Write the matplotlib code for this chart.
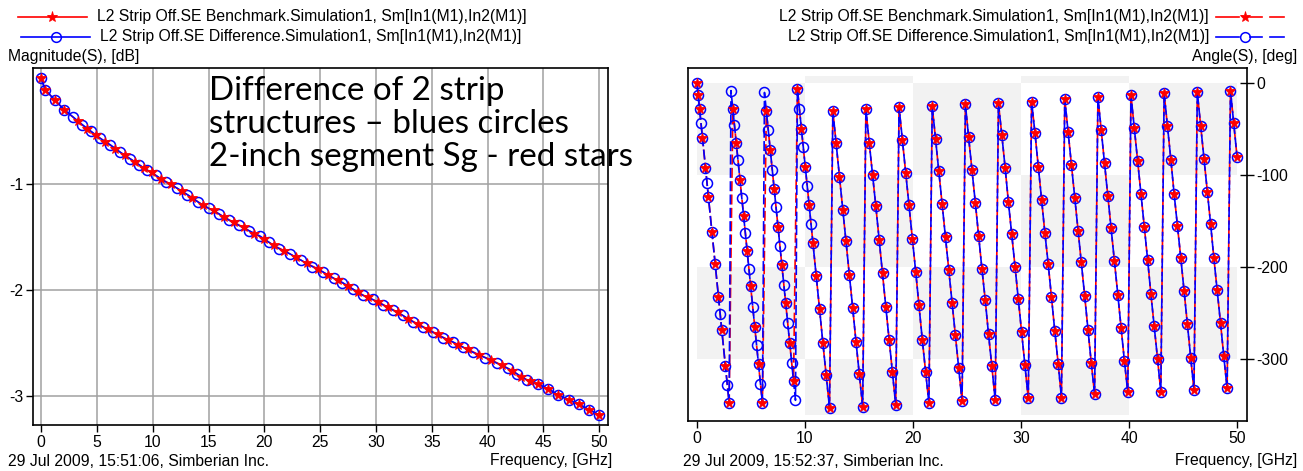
import numpy as np
import matplotlib
matplotlib.use("Agg")
import matplotlib.pyplot as plt
from matplotlib.lines import Line2D
from matplotlib.colors import ListedColormap

plt.rcParams['font.family'] = ['Liberation Sans', 'DejaVu Sans']
plt.rcParams['axes.unicode_minus'] = False

# ---------------- data ----------------
series_names = ["L2 Strip Off.SE Benchmark.Simulation1, Sm[In1(M1),In2(M1)]",
                "L2 Strip Off.SE Difference.Simulation1, Sm[In1(M1),In2(M1)]"]

# Magnitude (left chart), dB
mag_freq_bench = [0, 0.36, 1.25, 2.08, 3.3, 4.1, 4.9, 5.75, 6.65, 7.5, 8.4, 9.2, 9.9, 10.7, 11.6,
                  12.6, 13.55, 14.5, 15.45, 16.35, 17.25, 18.15, 19.1, 20.0, 20.85, 21.8, 22.8,
                  23.8, 24.8, 25.7, 26.6, 27.45, 28.35, 29.25, 30.15, 31.05, 31.95, 32.85, 33.75,
                  34.65, 35.55, 36.45, 37.35, 38.25, 39.2, 40.3, 41.3, 42.2, 43.0, 43.8, 44.5,
                  45.4, 46.3, 47.3, 48.2, 49.1, 50.0]
mag_bench = [0.0, -0.11, -0.21, -0.30, -0.41, -0.48, -0.54, -0.60, -0.67, -0.73, -0.79, -0.85,
             -0.89, -0.95, -1.00, -1.07, -1.13, -1.20, -1.25, -1.31, -1.36, -1.41, -1.47, -1.52,
             -1.58, -1.63, -1.69, -1.75, -1.80, -1.86, -1.91, -1.96, -2.02, -2.07, -2.11, -2.16,
             -2.21, -2.27, -2.32, -2.37, -2.42, -2.47, -2.52, -2.56, -2.61, -2.66, -2.71, -2.76,
             -2.82, -2.86, -2.89, -2.93, -2.99, -3.04, -3.08, -3.13, -3.18]

mag_freq_diff = [0, 0.36, 1.25, 2.08, 2.9, 3.7, 4.45, 5.3, 6.2, 7.1, 7.95, 8.8, 9.5, 10.3, 11.15,
                 12.2, 13.1, 14.05, 15.0, 15.9, 16.8, 17.7, 18.6, 19.6, 20.4, 21.3, 22.3, 23.3,
                 24.3, 25.25, 26.2, 27.0, 27.9, 28.8, 29.7, 30.6, 31.5, 32.4, 33.3, 34.2, 35.1,
                 36.0, 36.9, 37.8, 38.7, 39.8, 40.8, 41.8, 42.6, 43.5, 44.5, 45.4, 46.3, 47.3,
                 48.2, 49.1, 50.0]
mag_diff = [0.0, -0.11, -0.21, -0.30, -0.37, -0.44, -0.50, -0.57, -0.63, -0.70, -0.76, -0.82,
            -0.87, -0.92, -0.98, -1.04, -1.10, -1.17, -1.23, -1.28, -1.34, -1.39, -1.44, -1.49,
            -1.55, -1.61, -1.66, -1.72, -1.78, -1.83, -1.89, -1.93, -1.99, -2.05, -2.09, -2.14,
            -2.19, -2.24, -2.30, -2.35, -2.40, -2.45, -2.49, -2.54, -2.59, -2.64, -2.69, -2.74,
            -2.79, -2.85, -2.89, -2.93, -2.99, -3.04, -3.08, -3.13, -3.18]

# Angle (right chart), deg -- low-frequency part differs between the two simulations
ang_freq_bench_low = [0.00, 0.11, 0.24, 0.51, 0.79, 1.06, 1.39, 1.69, 1.99, 2.29, 2.64, 2.98,
                      3.32, 3.64, 3.98, 4.32, 4.64, 4.97, 5.35, 5.70, 6.06,
                      6.42, 6.79, 7.15, 7.50, 7.86, 8.21, 8.59, 8.94,
                      9.30, 9.67, 10.03, 10.39]
ang_bench_low = [0, -12.7, -28, -60, -92, -124, -162, -197, -233, -268, -308, -348,
                 -28, -65, -105, -144, -182, -221, -265, -306, -348,
                 -30, -73, -115, -156, -198, -239, -283, -324,
                 -6.5, -50, -91, -133]

ang_freq_diff_low = [0.00, 0.11, 0.24, 0.37, 0.51, 0.79, 0.92, 1.06, 1.39, 1.69, 1.99, 2.15, 2.29,
                     2.64, 2.81, 2.98,
                     3.15, 3.32, 3.47, 3.64, 3.80, 3.98, 4.15, 4.32, 4.48, 4.64, 4.81, 4.97, 5.16,
                     5.35, 5.52, 5.70, 5.88, 6.06,
                     6.25, 6.42, 6.60, 6.79, 6.97, 7.15, 7.32, 7.50, 7.68, 7.86, 8.04, 8.21, 8.40,
                     8.59, 8.77, 8.94, 9.12,
                     9.30, 9.49, 9.67, 9.84, 10.03, 10.21, 10.39, 10.56]
ang_diff_low = [0, -12.7, -28, -43, -60, -92, -108, -124, -162, -197, -233, -251, -268, -308, -328, -348,
                -8, -28, -45, -65, -84, -105, -125, -144, -163, -182, -202, -221, -243, -265, -285,
                -306, -327, -348,
                -10, -30, -51, -73, -94, -115, -135, -156, -177, -198, -219, -239, -261, -283,
                -304, -324, -345,
                -6.5, -28, -50, -69, -91, -112, -133, -153]

# common part (both simulations coincide above ~10.7 GHz)
ang_freq_high = [10.74, 11.04, 11.35, 11.66, 11.96, 12.27, 12.58, 12.88, 13.19, 13.50, 13.80, 14.11,
                 14.42, 14.72, 15.03, 15.34, 15.64, 15.95, 16.26, 16.56, 16.87, 17.18, 17.48, 17.79,
                 18.10, 18.40, 18.71, 19.02, 19.33, 19.63, 19.94, 20.25, 20.55, 20.86, 21.17, 21.47,
                 21.78, 22.09, 22.39, 22.70, 23.01, 23.31, 23.62, 23.93, 24.23, 24.54, 24.85, 25.15,
                 25.46, 25.77, 26.07, 26.38, 26.69, 26.99, 27.30, 27.61, 27.91, 28.22, 28.53, 28.83,
                 29.14, 29.45, 29.75, 30.06, 30.37, 30.67, 30.98, 31.29, 31.60, 31.90, 32.21, 32.52,
                 32.82, 33.13, 33.44, 33.74, 34.05, 34.36, 34.66, 34.97, 35.28, 35.58, 35.89, 36.20,
                 36.50, 36.81, 37.12, 37.42, 37.73, 38.04, 38.34, 38.65, 38.96, 39.26, 39.57, 39.88,
                 40.18, 40.49, 40.80, 41.10, 41.41, 41.72, 42.02, 42.33, 42.64, 42.94, 43.25, 43.56,
                 43.87, 44.17, 44.48, 44.79, 45.09, 45.40, 45.71, 46.01, 46.32, 46.63, 46.93, 47.24,
                 47.55, 47.85, 48.16, 48.47, 48.77, 49.08, 49.39, 49.69, 50.00]
ang_high = [-174, -210, -246, -283, -317, -353,
            -30, -65, -102, -138, -172, -209, -245, -281, -316, -352,
            -28, -65, -100, -134, -171, -207, -243, -279, -314, -350,
            -26, -62, -98, -133, -169, -205, -241, -279, -314, -348,
            -25, -61, -96, -131, -167, -203, -239, -274, -310, -346,
            -23, -59, -94, -130, -166, -202, -236, -273, -308, -345,
            -22, -56, -92, -129, -164, -200, -235, -271, -307, -343,
            -20, -54, -91, -127, -163, -197, -233, -270, -305, -342,
            -17, -53, -89, -125, -161, -195, -231, -268, -304, -338,
            -15, -51, -87, -123, -158, -193, -230, -266, -302, -336,
            -13, -49, -85, -121, -156, -192, -229, -264, -300, -336,
            -11, -47, -83, -120, -155, -190, -226, -262, -299, -334,
            -10, -46, -82, -118, -153, -190, -225, -261, -297, -332,
            -8, -43.5, -80]

left_xticks = [0, 5, 10, 15, 20, 25, 30, 35, 40, 45, 50]
left_yticks = [-1, -2, -3]
right_xticks = [0, 10, 20, 30, 40, 50]
right_yticks = [0, -100, -200, -300]
bg_x_edges = [0, 10, 20, 30, 40, 50]
bg_y_edges = [-361, -300, -200, -100, 0, 8]

note_text = "Difference of 2 strip\nstructures \u2013 blues circles\n2-inch segment Sg - red stars"
left_stamp = "29 Jul 2009, 15:51:06, Simberian Inc."
right_stamp = "29 Jul 2009, 15:52:37, Simberian Inc."

# ---------------- figure ----------------
W, H = 1303, 471
fig = plt.figure(figsize=(W / 100, H / 100), dpi=100)
fig.patch.set_facecolor('white')


def fx(x):
    return x / W


def fy(y):
    return 1 - y / H


RED = '#ff0000'
BLUE = '#0000ff'
FS = 10.3
TXT = '#000000'

renderer = fig.canvas.get_renderer()


def fit(t, width_px):
    bb = t.get_window_extent(renderer)
    t.set_fontsize(t.get_fontsize() * width_px / bb.width)


# --- left chart ---
axL = fig.add_axes([fx(33), fy(425), (608 - 33) / W, (425 - 68) / H])
axL.set_xlim(-0.72, 50.78)
axL.set_ylim(-3.274, 0.094)
axL.set_xticks(left_xticks)
axL.set_xticklabels([str(v) for v in left_xticks])
axL.set_yticks(left_yticks)
axL.set_yticklabels([str(v) for v in left_yticks])
axL.grid(True, color='#a0a0a0', lw=1.1, zorder=0)
axL.set_axisbelow(True)
axL.tick_params(direction='out', length=5, width=1, labelsize=FS, pad=2, colors='black')
for s in axL.spines.values():
    s.set_linewidth(1.2)

axL.plot(mag_freq_bench, mag_bench, color=RED, lw=1.1, zorder=3)
axL.plot(mag_freq_diff, mag_diff, color=BLUE, lw=1.1, zorder=4)
axL.plot(mag_freq_diff, mag_diff, ls='none', marker='o', ms=7.2, mfc='none', mec=BLUE, mew=1.1, zorder=5)
axL.plot(mag_freq_bench, mag_bench, ls='none', marker='*', ms=7.5, mfc=RED, mec=RED, mew=0.6, zorder=6)

note = axL.text(fx(209), fy(76), note_text, transform=fig.transFigure, ha='left', va='top',
                fontsize=20, family=['Lato', 'DejaVu Sans'], linespacing=1.12, zorder=2, color='black')

# --- right chart ---
axR = fig.add_axes([fx(688), fy(421), (1247 - 688) / W, (421 - 68) / H])
axR.set_xlim(-0.83, 50.92)
axR.set_ylim(-367.5, 16.6)
nrow, ncol = len(bg_y_edges) - 1, len(bg_x_edges) - 1
rr, cc = np.indices((nrow, ncol))
checker = (rr + cc) % 2
axR.pcolormesh(bg_x_edges, bg_y_edges, checker, cmap=ListedColormap(['white', '#f2f2f2']),
               shading='flat', zorder=0)
axR.set_xticks(right_xticks)
axR.set_xticklabels([str(v) for v in right_xticks])
axR.yaxis.tick_right()
axR.set_yticks(right_yticks)
axR.set_yticklabels([str(v) for v in right_yticks])
axR.tick_params(axis='x', direction='out', length=5, width=1, labelsize=FS, pad=2)
axR.tick_params(axis='y', direction='inout', length=10, width=1, labelsize=FS, pad=2)
for s in axR.spines.values():
    s.set_linewidth(1.2)

bench_f = ang_freq_bench_low + ang_freq_high
bench_a = ang_bench_low + ang_high
diff_f = ang_freq_diff_low + ang_freq_high
diff_a = ang_diff_low + ang_high
axR.plot(bench_f, bench_a, color=RED, lw=1.2, dashes=(6, 2), zorder=3)
axR.plot(diff_f, diff_a, color=BLUE, lw=1.2, dashes=(6, 2), zorder=4)
axR.plot(diff_f, diff_a, ls='none', marker='o', ms=7.2, mfc='none', mec=BLUE, mew=1.1, zorder=5)
axR.plot(bench_f, bench_a, ls='none', marker='*', ms=7.5, mfc=RED, mec=RED, mew=0.6, zorder=6)

# --- legends (drawn in figure pixels) ---
def legend_sample(x0, x1, xm, y, color, marker, dashed):
    if dashed:
        segs = [(x0, xm - 6), (xm + 5, xm + 17), (xm + 25, x1)]
    else:
        segs = [(x0, x1)]
    for a, b in segs:
        fig.add_artist(Line2D([fx(a), fx(b)], [fy(y), fy(y)], transform=fig.transFigure,
                              color=color, lw=1.2))
    if marker == 'o':
        fig.add_artist(Line2D([fx(xm)], [fy(y)], transform=fig.transFigure, marker='o', ms=7,
                              mfc='none', mec=color, mew=1.1, ls='none'))
    else:
        fig.add_artist(Line2D([fx(xm)], [fy(y)], transform=fig.transFigure, marker='*', ms=8,
                              mfc=color, mec=color, mew=0.6, ls='none'))

legend_sample(18, 87, 52, 17, RED, '*', False)
legend_sample(21, 90, 56, 37, BLUE, 'o', False)
t1 = fig.text(fx(97), fy(17), series_names[0], ha='left', va='center', fontsize=FS, color=TXT)
fit(t1, 430)
FSL = t1.get_fontsize()
fig.text(fx(100), fy(37), series_names[1], ha='left', va='center', fontsize=FSL, color=TXT)

legend_sample(1216, 1284, 1245, 17, RED, '*', True)
legend_sample(1216, 1284, 1245, 37, BLUE, 'o', True)
fig.text(fx(1209), fy(17), series_names[0], ha='right', va='center', fontsize=FSL, color=TXT)
fig.text(fx(1209), fy(37), series_names[1], ha='right', va='center', fontsize=FSL, color=TXT)

fig.text(fx(8), fy(57), "Magnitude(S), [dB]", ha='left', va='center', fontsize=FSL, color=TXT)
fig.text(fx(1297), fy(57), "Angle(S), [deg]", ha='right', va='center', fontsize=FSL, color=TXT)
fig.text(fx(8), fy(461), left_stamp, ha='left', va='center', fontsize=FSL, color=TXT)
fig.text(fx(612), fy(461), "Frequency, [GHz]", ha='right', va='center', fontsize=FSL, color=TXT)
fig.text(fx(683), fy(461), right_stamp, ha='left', va='center', fontsize=FSL, color=TXT)
fig.text(fx(1297), fy(461), "Frequency, [GHz]", ha='right', va='center', fontsize=FSL, color=TXT)

for ax in (axL, axR):
    ax.tick_params(labelsize=FSL)

fit(note, 424)

fig.savefig('out.png', dpi=100, facecolor='white')
